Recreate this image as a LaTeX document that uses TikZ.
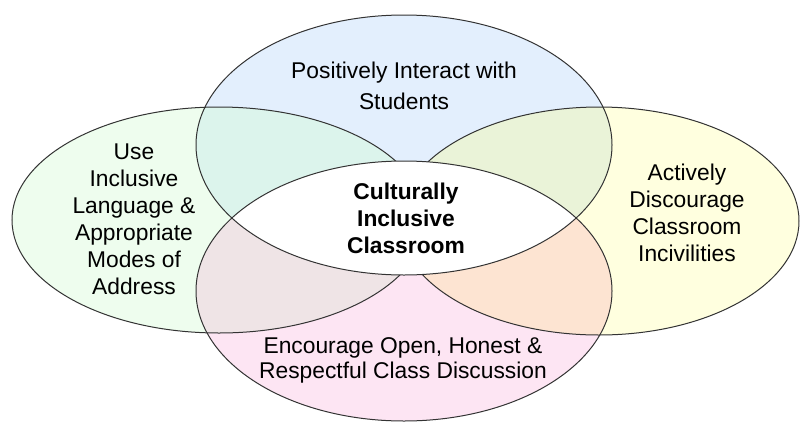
\documentclass[tikz,border=0pt]{standalone}
\usepackage{fontspec}
\setmainfont{Liberation Sans}
\definecolor{cTop}{HTML}{E3EFFD}
\definecolor{cLeft}{HTML}{EEFDEE}
\definecolor{cRight}{HTML}{FFFFDF}
\definecolor{cBot}{HTML}{FDE5F3}
\definecolor{cTL}{HTML}{DCF4EC}
\definecolor{cTR}{HTML}{EAF3D8}
\definecolor{cBL}{HTML}{EFE4E6}
\definecolor{cBR}{HTML}{FDE4D2}
\begin{document}
\begin{tikzpicture}[x=1pt,y=-1pt,
  outline/.style={draw=black!80,line width=1pt},
  lbl/.style={font=\fontsize{22.8}{27}\selectfont,align=center,inner sep=0pt,anchor=base,text=black}]
\useasboundingbox (0,0) rectangle (803,421);
\def\TopE{(404,145) ellipse [x radius=208pt,y radius=130pt]}
\def\BotE{(404,291) ellipse [x radius=208pt,y radius=130pt]}
\def\LeftE{(219,220) ellipse [x radius=207pt,y radius=113pt]}
\def\RightE{(599,221) ellipse [x radius=200pt,y radius=114pt]}
\fill[cLeft] \LeftE;
\fill[cRight] \RightE;
\fill[cTop] \TopE;
\fill[cBot] \BotE;
\begin{scope}
  \clip \TopE;
  \fill[cTL] \LeftE;
  \fill[cTR] \RightE;
\end{scope}
\begin{scope}
  \clip \BotE;
  \fill[cBL] \LeftE;
  \fill[cBR] \RightE;
\end{scope}
\draw[outline] \LeftE;
\draw[outline] \RightE;
\begin{scope}
  \clip \TopE;
  \fill[white] \BotE;
\end{scope}
\draw[outline] \TopE;
\draw[outline] \BotE;
\node[lbl,font=\fontsize{22.8}{31}\selectfont] (toptext) at (404,109) {Positively Interact with\\Students};
\node[lbl] (lefttext) at (134,294) {Use\\Inclusive\\Language \&\\Appropriate\\Modes of\\Address};
\node[lbl] (righttext) at (687,261.5) {Actively\\Discourage\\Classroom\\Incivilities};
\node[lbl,font=\fontsize{22.8}{27}\selectfont\bfseries] (centertext) at (406,253) {Culturally\\Inclusive\\Classroom};
\node[lbl,font=\fontsize{22.8}{24.5}\selectfont] (bottomtext) at (403,378) {Encourage Open, Honest \&\\Respectful Class Discussion};
\end{tikzpicture}
\end{document}
